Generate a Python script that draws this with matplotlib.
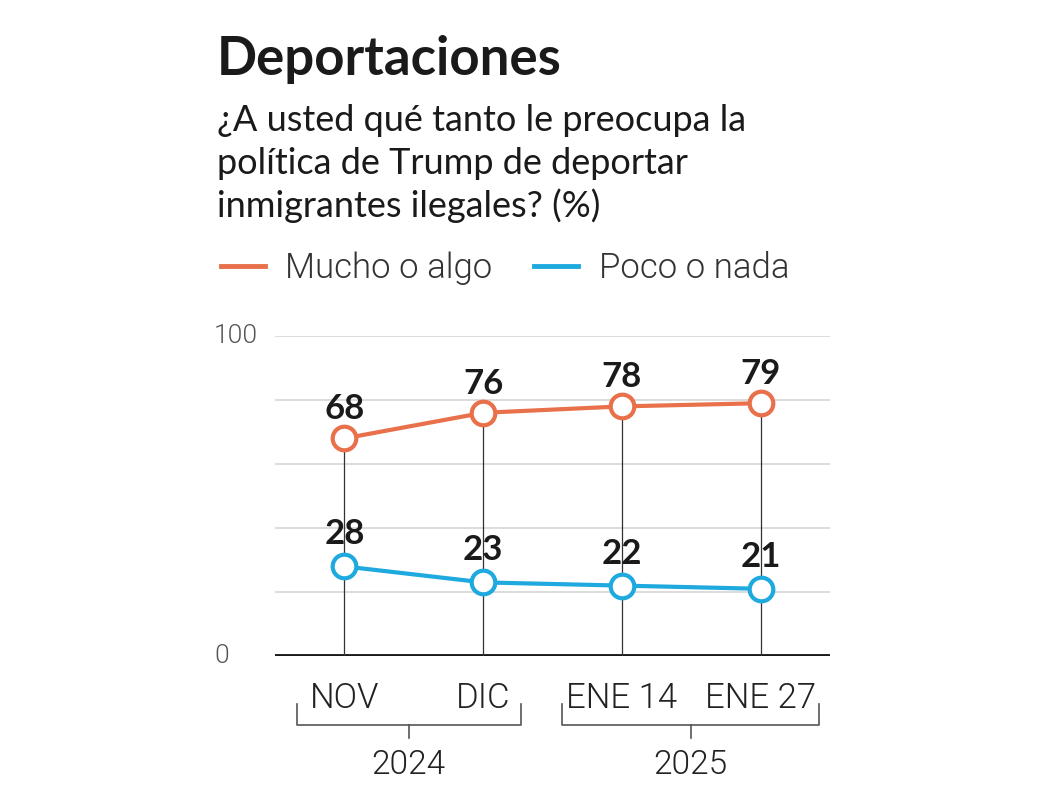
import matplotlib
matplotlib.use("Agg")
import matplotlib.pyplot as plt
from matplotlib.lines import Line2D

# data
fechas = ["NOV", "DIC", "ENE 14", "ENE 27"]
mucho = [68, 76, 78, 79]
poco = [28, 23, 22, 21]
anios = ["2024", "2025"]

naranja = "#E8704A"
azul = "#1EA9DF"
W, H = 1057, 809

plt.rcParams["font.family"] = ["Lato", "DejaVu Sans"]
light = {"family": ["Roboto", "DejaVu Sans"], "weight": 300}

fig = plt.figure(figsize=(W / 100, H / 100), dpi=100)
ax = fig.add_axes([275 / W, 1 - 656 / H, 555 / W, 320 / H])

x = list(range(len(fechas)))

# grid
for g in [20, 40, 60, 80, 100]:
    ax.axhline(g, color="#d6d6d6", lw=1.2, zorder=0)
ax.axhline(0, color="#1a1a1a", lw=3.5, zorder=1)

# vertical lines down from the top marker
for i in x:
    ax.plot([i, i], [0, max(mucho[i], poco[i])], color="#333333", lw=0.9, zorder=1)

ax.plot(x, mucho, color=naranja, lw=3, marker="o", ms=17, mfc="white",
        mec=naranja, mew=3, zorder=3)
ax.plot(x, poco, color=azul, lw=3, marker="o", ms=17, mfc="white",
        mec=azul, mew=3, zorder=3)

for i in x:
    ax.annotate(str(mucho[i]), (i, mucho[i]), xytext=(0, 21), textcoords="offset points",
                ha="center", va="center", fontsize=25, fontweight="bold", color="#1a1a1a")
    ax.annotate(str(poco[i]), (i, poco[i]), xytext=(0, 23), textcoords="offset points",
                ha="center", va="center", fontsize=25, fontweight="bold", color="#1a1a1a")

ax.set_xlim(-0.5, 3.5)
ax.set_ylim(0, 100)
ax.set_xticks(x)
ax.set_xticklabels(fechas, fontsize=25, color="#222222", fontdict=light)
ax.tick_params(axis="x", length=0, pad=18)
ax.set_yticks([])
for s in ax.spines.values():
    s.set_visible(False)
ax.patch.set_alpha(0)

# y labels
ax.text(-0.94, 100, "100", fontsize=19, color="#555555", ha="left", va="center", **light)
ax.text(-0.94, 0, "0", fontsize=19, color="#555555", ha="left", va="center", **light)

# year brackets
brackets = [(-0.345, 1.27), (1.57, 3.42)]
for (a, b), anio in zip(brackets, anios):
    m = (a + b) / 2
    ax.plot([a, a, b, b], [-15, -21.6, -21.6, -15], color="#555555", lw=1.2, clip_on=False)
    ax.plot([m, m], [-21.6, -25.5], color="#555555", lw=1.2, clip_on=False)
    ax.text(m, -34, anio, fontsize=24, color="#222222", ha="center", va="center", **light)

# titles
fig.text(217 / W, 1 - 75 / H, "Deportaciones", fontsize=38, fontweight="bold",
         color="#1a1a1a", ha="left", va="baseline")
sub = ["¿A usted qué tanto le preocupa la",
       "política de Trump de deportar",
       "inmigrantes ilegales? (%)"]
for k, line in enumerate(sub):
    fig.text(217 / W, 1 - (131 + 43 * k) / H, line, fontsize=26, color="#1a1a1a",
             ha="left", va="baseline")

handles = [Line2D([], [], color=naranja, lw=3.5), Line2D([], [], color=azul, lw=3.5)]
fig.legend(handles, ["Mucho o algo", "Poco o nada"], loc="center left",
           bbox_to_anchor=(190 / W, 1 - 268 / H), ncol=2, frameon=False,
           prop={"size": 25, **light}, handlelength=1.25,
           handletextpad=0.6, columnspacing=1.2, labelcolor="#333333")

fig.savefig("out.png", dpi=100, facecolor="white")
